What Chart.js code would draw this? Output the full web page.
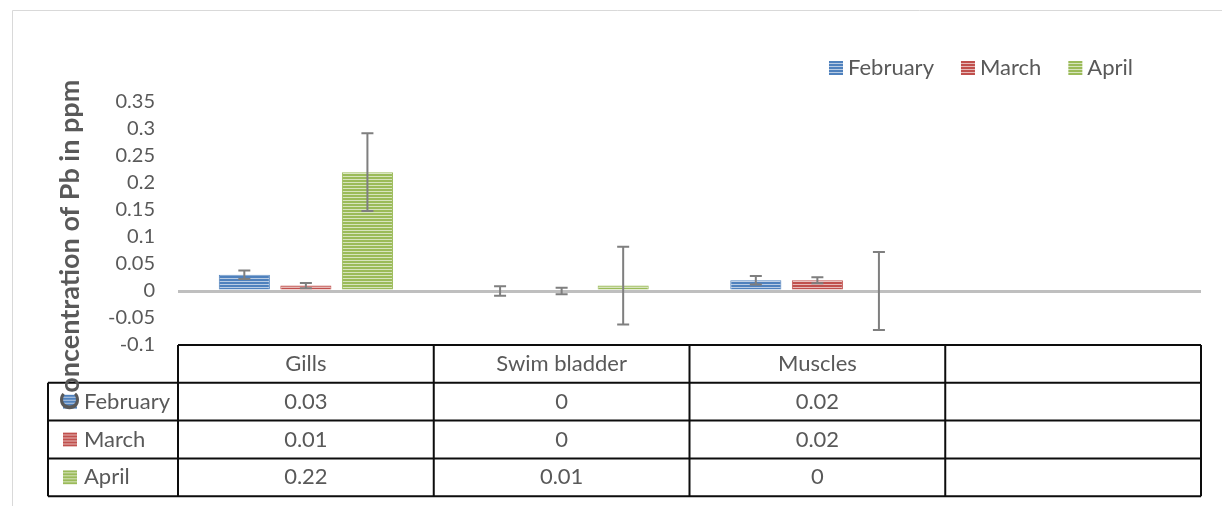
<!DOCTYPE html>
<html>
<head>
<meta charset="utf-8">
<script src="https://cdn.jsdelivr.net/npm/chart.js@4.4.1/dist/chart.umd.min.js"></script>
<style>
  body { margin: 0; background: #fff; }
  canvas { display: block; }
</style>
</head>
<body>
<canvas id="chart" width="1222" height="506"></canvas>
<script>
// data
const categories = ['Gills', 'Swim bladder', 'Muscles', ''];
const february = [0.03, 0, 0.02, null];
const march = [0.01, 0, 0.02, null];
const april = [0.22, 0.01, 0, null];
// error bar half-lengths
const februaryErr = [0.008, 0.009, 0.008, null];
const marchErr = [0.005, 0.006, 0.0055, null];
const aprilErr = [0.072, 0.072, 0.072, null];
const yTicks = [0.35, 0.3, 0.25, 0.2, 0.15, 0.1, 0.05, 0, -0.05, -0.1];

const seriesNames = ['February', 'March', 'April'];
const seriesColors = ['#4f81bd', '#c0504d', '#9bbb59'];
const seriesLight = ['#b9cce4', '#e6b9b8', '#d7e4bd'];
const errors = [februaryErr, marchErr, aprilErr];

const FONT = 'Lato, "Open Sans", sans-serif';
const TEXT = '#595959';

function stripes(color, light) {
    const c = document.createElement('canvas');
    c.width = 4;
    c.height = 3;
    const g = c.getContext('2d');
    g.fillStyle = light;
    g.fillRect(0, 0, 4, 3);
    g.fillStyle = color;
    g.fillRect(0, 0, 4, 2);
    return g.createPattern(c, 'repeat');
}

const ctx = document.getElementById('chart').getContext('2d');
const patterns = seriesColors.map((c, i) => stripes(c, seriesLight[i]));

function drawKey(g, i, x, y) {
    g.save();
    g.fillStyle = patterns[i];
    g.translate(x, y);
    g.fillRect(0, 0, 14, 14);
    g.restore();
}

const extras = {
    id: 'extras',
    beforeDraw(chart) {
        const g = chart.ctx;
        g.save();
        g.fillStyle = '#fff';
        g.fillRect(0, 0, chart.width, chart.height);
        g.strokeStyle = '#d9d9d9';
        g.lineWidth = 1;
        g.beginPath();
        g.moveTo(12.5, chart.height);
        g.lineTo(12.5, 10.5);
        g.lineTo(chart.width, 10.5);
        g.stroke();
        g.restore();
    },
    afterDatasetsDraw(chart) {
        const g = chart.ctx;
        const y = chart.scales.y;
        g.save();
        g.strokeStyle = '#7f7f7f';
        g.lineWidth = 2;
        errors.forEach((err, d) => {
            const meta = chart.getDatasetMeta(d);
            meta.data.forEach((bar, i) => {
                if (err[i] == null) return;
                const v = chart.data.datasets[d].data[i];
                const top = y.getPixelForValue(v + err[i]);
                const bot = y.getPixelForValue(v - err[i]);
                g.beginPath();
                g.moveTo(bar.x, top);
                g.lineTo(bar.x, bot);
                g.moveTo(bar.x - 6, top);
                g.lineTo(bar.x + 6, top);
                g.moveTo(bar.x - 6, bot);
                g.lineTo(bar.x + 6, bot);
                g.stroke();
            });
        });
        g.restore();
    },
    afterDraw(chart) {
        const g = chart.ctx;
        const area = chart.chartArea;
        const x = chart.scales.x;
        const catW = area.width / categories.length;
        const rowH = 37.8;
        const top = area.bottom;
        const labelLeft = 48;
        const rows = [february, march, april];

        // data table
        g.save();
        g.strokeStyle = '#0d0d0d';
        g.lineWidth = 2;
        g.beginPath();
        g.moveTo(area.left, top);
        g.lineTo(area.right, top);
        for (let r = 1; r <= 4; r++) {
            g.moveTo(labelLeft, top + r * rowH);
            g.lineTo(area.right, top + r * rowH);
        }
        for (let c = 0; c <= categories.length; c++) {
            g.moveTo(area.left + c * catW, top);
            g.lineTo(area.left + c * catW, top + 4 * rowH);
        }
        g.moveTo(labelLeft, top + rowH);
        g.lineTo(labelLeft, top + 4 * rowH);
        g.stroke();

        g.fillStyle = TEXT;
        g.font = '22px ' + FONT;
        g.textAlign = 'center';
        g.textBaseline = 'middle';
        categories.forEach((cat, i) => {
            const cx = x.getPixelForValue(i);
            g.fillText(cat, cx, top + rowH / 2);
            rows.forEach((row, r) => {
                if (row[i] == null) return;
                g.fillText(String(row[i]), cx, top + (r + 1.5) * rowH);
            });
        });
        g.textAlign = 'left';
        seriesNames.forEach((name, r) => {
            const cy = top + (r + 1.5) * rowH;
            drawKey(g, r, 63, cy - 7);
            g.fillStyle = TEXT;
            g.fillText(name, 84, cy);
        });

        // legend, right edge of the last label at 1133
        const widths = seriesNames.map(n => g.measureText(n).width);
        const itemW = widths.map(w => 14 + 5 + w);
        const total = itemW.reduce((a, b) => a + b, 0) + 27 * (seriesNames.length - 1);
        let lx = 1133 - total;
        seriesNames.forEach((name, i) => {
            drawKey(g, i, lx, 61);
            g.fillStyle = TEXT;
            g.fillText(name, lx + 19, 68);
            lx += itemW[i] + 27;
        });

        // axis title, sized to span the same length as the original
        const title = 'Concentration of Pb in ppm';
        g.font = 'bold 20px ' + FONT;
        const size = 20 * 330 / g.measureText(title).width;
        g.font = 'bold ' + size.toFixed(1) + 'px ' + FONT;
        g.translate(70, 245);
        g.rotate(-Math.PI / 2);
        g.textAlign = 'center';
        g.fillStyle = TEXT;
        g.fillText(title, 0, 0);
        g.restore();
    }
};

new Chart(ctx, {
    type: 'bar',
    data: {
        labels: categories,
        datasets: seriesNames.map((name, i) => ({
            label: name,
            data: [february, march, april][i],
            backgroundColor: patterns[i],
            borderColor: seriesColors[i],
            borderWidth: 1,
            categoryPercentage: 0.722,
            barPercentage: 0.83
        }))
    },
    options: {
        responsive: false,
        animation: false,
        layout: { padding: { top: 102, bottom: 161, right: 21, left: 0 } },
        plugins: {
            legend: { display: false },
            tooltip: { enabled: false }
        },
        scales: {
            x: {
                display: false
            },
            y: {
                min: -0.1,
                max: 0.35,
                afterFit(scale) { scale.width = 178; },
                afterBuildTicks(scale) { scale.ticks = yTicks.map(v => ({ value: v })); },
                border: { display: false },
                grid: {
                    drawTicks: false,
                    color: c => c.tick && c.tick.value === 0 ? '#bfbfbf' : 'transparent',
                    lineWidth: 3
                },
                ticks: {
                    padding: 23,
                    color: TEXT,
                    font: { family: FONT, size: 20 },
                    callback: v => String(Math.round(v * 100) / 100)
                }
            }
        }
    },
    plugins: [extras]
});
</script>
</body>
</html>
